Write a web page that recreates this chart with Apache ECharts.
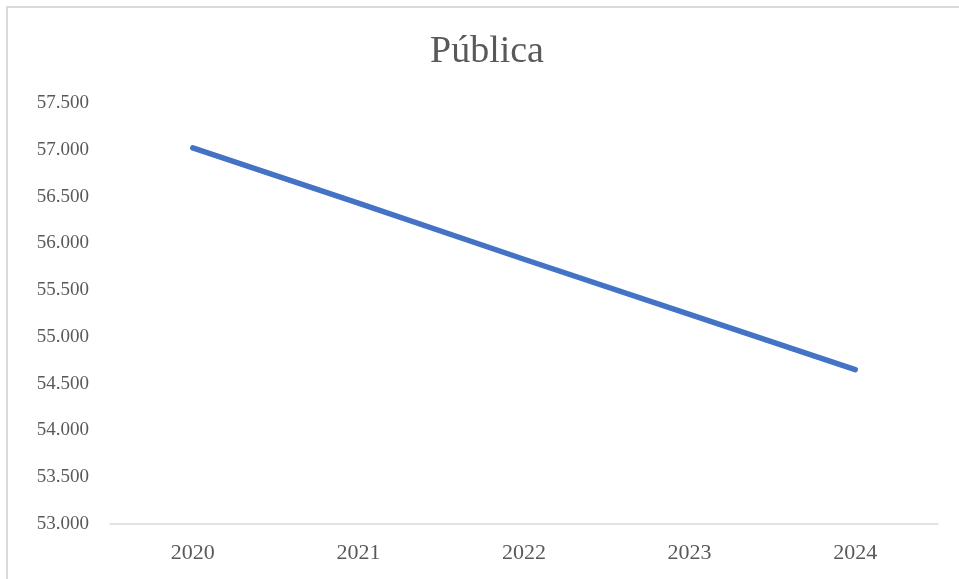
<!DOCTYPE html>
<html>
<head>
<meta charset="utf-8">
<script src="https://cdn.jsdelivr.net/npm/echarts@6/dist/echarts.min.js"></script>
<style>
  html, body { margin: 0; padding: 0; background: #fff; }
  #chart { width: 959px; height: 579px; }
</style>
</head>
<body>
<div id="chart"></div>
<script>
// datos
var years = ['2020', '2021', '2022', '2023', '2024'];
var publica = [57020, 56430, 55830, 55240, 54650];

var myChart = echarts.init(document.getElementById('chart'));

var option = {
    backgroundColor: '#fff',
    animation: false,
    title: {
        text: 'Pública',
        left: 425,
        top: 28,
        textStyle: {
            color: '#595959',
            fontSize: 38,
            fontWeight: 'normal',
            fontFamily: 'Liberation Serif'
        }
    },
    graphic: [{
        type: 'rect',
        shape: { x: 7, y: 7, width: 1000, height: 1000 },
        style: { fill: 'none', stroke: '#d9d9d9', lineWidth: 2 },
        silent: true
    }],
    grid: {
        left: 110,
        right: 21,
        top: 103,
        bottom: 55
    },
    xAxis: {
        type: 'category',
        data: years,
        boundaryGap: true,
        axisLine: { lineStyle: { color: '#d9d9d9', width: 1.5 } },
        axisTick: { show: false },
        axisLabel: {
            color: '#595959',
            fontSize: 22,
            fontFamily: 'Liberation Serif',
            margin: 18
        }
    },
    yAxis: {
        type: 'value',
        min: 53000,
        max: 57500,
        interval: 500,
        axisLine: { show: false },
        axisTick: { show: false },
        splitLine: { show: false },
        axisLabel: {
            color: '#595959',
            fontSize: 19,
            fontFamily: 'Liberation Serif',
            margin: 21,
            formatter: function (v) {
                return v.toLocaleString('de-DE');
            }
        }
    },
    series: [{
        name: 'Pública',
        type: 'line',
        data: publica,
        symbol: 'none',
        lineStyle: { color: '#4472C4', width: 5.5, cap: 'round', join: 'round' }
    }]
};

myChart.setOption(option);
</script>
</body>
</html>
